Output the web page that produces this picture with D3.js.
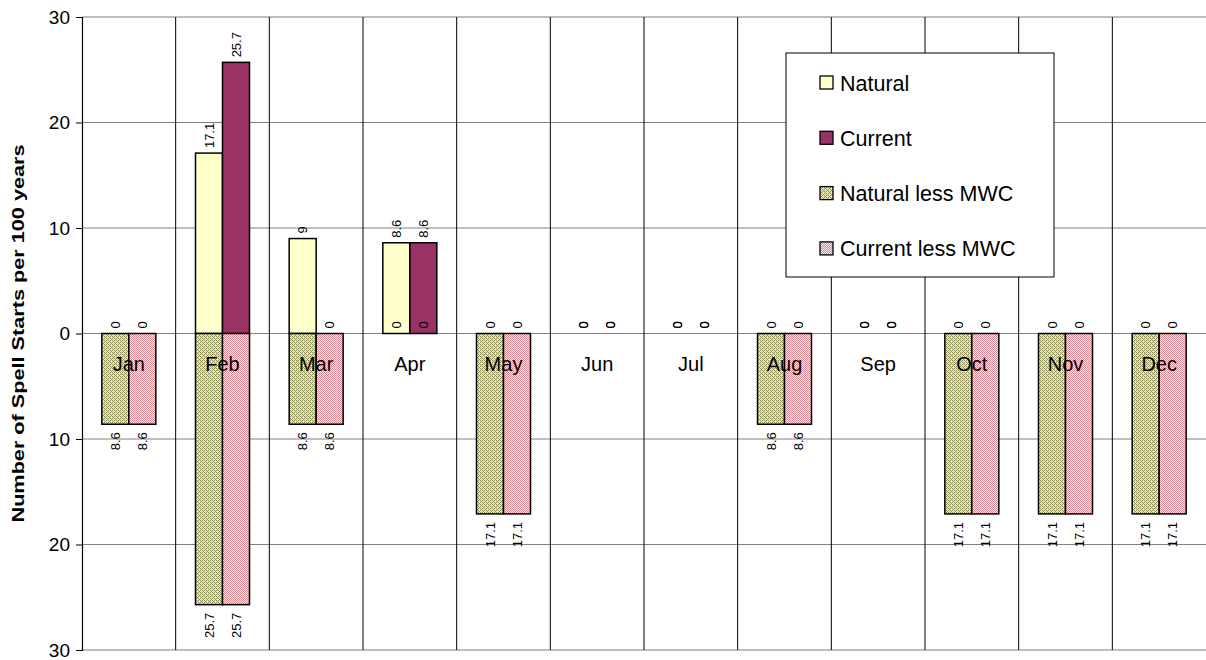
<!DOCTYPE html>
<html>
<head>
<meta charset="utf-8">
<script src="https://cdn.jsdelivr.net/npm/d3@7/dist/d3.min.js"></script>
<style>
  html, body { margin: 0; padding: 0; background: #fff; }
  svg { display: block; font-family: Arial, "Liberation Sans", sans-serif; }
</style>
</head>
<body>
<svg id="chart" width="1206" height="660"></svg>
<script>
// Monthly spell starts per 100 years
const months = ["Jan","Feb","Mar","Apr","May","Jun","Jul","Aug","Sep","Oct","Nov","Dec"];
const natural          = [0, 17.1, 9,   8.6, 0,    0, 0, 0,   0, 0,    0,    0];
const current          = [0, 25.7, 0,   8.6, 0,    0, 0, 0,   0, 0,    0,    0];
const naturalLessMWC   = [8.6, 25.7, 8.6, 0, 17.1, 0, 0, 8.6, 0, 17.1, 17.1, 17.1];
const currentLessMWC   = [8.6, 25.7, 8.6, 0, 17.1, 0, 0, 8.6, 0, 17.1, 17.1, 17.1];
const yTicks = [-30, -20, -10, 0, 10, 20, 30];
const legendLabels = ["Natural", "Current", "Natural less MWC", "Current less MWC"];

const svg = d3.select("#chart");
const m = { left: 82, right: 1206, top: 17, bottom: 650 };

// Patterned fills for the "less MWC" series
const defs = svg.append("defs");
function dither(id, bg, fg, dots) {
  const p = defs.append("pattern").attr("id", id)
    .attr("patternUnits", "userSpaceOnUse").attr("width", 4).attr("height", 4);
  p.append("rect").attr("width", 4).attr("height", 4).attr("fill", bg);
  dots.forEach(([x, y]) => p.append("rect").attr("x", x).attr("y", y)
    .attr("width", 1).attr("height", 1).attr("fill", fg));
}
dither("patOlive", "#e8e8b0", "#8f8f58", [[0,0],[2,0],[1,1],[0,2],[2,2],[3,3]]);
dither("patPink", "#fbe8ea", "#d98a94", [[0,0],[2,0],[1,1],[3,1],[0,2],[2,2],[1,3],[3,3]]);

const fills = ["#ffffcc", "#993366", "url(#patOlive)", "url(#patPink)"];

const x = d3.scaleBand().domain(months).range([m.left, m.right]).paddingInner(0).paddingOuter(0);
const sub = d3.scaleBand().domain([0, 1]).range([0, x.bandwidth()]).paddingInner(0).paddingOuter(0.735);
const y = d3.scaleLinear().domain([-30, 30]).range([m.bottom, m.top]);

// Horizontal gridlines
svg.append("g").selectAll("line").data(yTicks).join("line")
  .attr("x1", m.left).attr("x2", m.right)
  .attr("y1", d => y(d)).attr("y2", d => y(d))
  .attr("stroke", "#808080").attr("stroke-width", 1.2);

// Vertical gridlines at category boundaries
svg.append("g").selectAll("line").data(months.slice(1)).join("line")
  .attr("x1", d => x(d)).attr("x2", d => x(d))
  .attr("y1", m.top).attr("y2", m.bottom)
  .attr("stroke", "#000").attr("stroke-width", 1);

// Bars: upper series grow up from zero, lower series grow down
const series = [
  { vals: natural, dir: 1, slot: 0, fill: fills[0] },
  { vals: current, dir: 1, slot: 1, fill: fills[1] },
  { vals: naturalLessMWC, dir: -1, slot: 0, fill: fills[2] },
  { vals: currentLessMWC, dir: -1, slot: 1, fill: fills[3] }
];

const barG = svg.append("g");
series.forEach(s => {
  barG.selectAll(null).data(months.map((mo, i) => ({ mo, v: s.vals[i] })).filter(d => d.v > 0))
    .join("rect")
    .attr("x", d => x(d.mo) + sub(s.slot))
    .attr("width", sub.bandwidth())
    .attr("y", d => s.dir > 0 ? y(d.v) : y(0))
    .attr("height", d => Math.abs(y(d.v) - y(0)))
    .attr("fill", s.fill)
    .attr("stroke", "#000").attr("stroke-width", 1.5);
});

// Category labels, drawn over the bars
svg.append("g").selectAll("text").data(months).join("text")
  .attr("x", d => x(d) + x.bandwidth() / 2)
  .attr("y", y(0) + 30)
  .attr("dy", "0.35em")
  .attr("text-anchor", "middle")
  .attr("font-size", 20)
  .attr("fill", "#000")
  .text(d => d);

// Value labels, rotated
const fmt = v => String(v);
const labG = svg.append("g");
series.forEach(s => {
  months.forEach((mo, i) => {
    const v = s.vals[i];
    const cx = x(mo) + sub(s.slot) + sub.bandwidth() / 2;
    let ly, anchor;
    if (s.dir > 0 || v === 0) {
      ly = (s.dir > 0 ? y(v) : y(0)) - 5;
      anchor = "start";
    } else {
      ly = y(-v) + 8;
      anchor = "end";
    }
    labG.append("text")
      .attr("transform", `translate(${cx},${ly}) rotate(-90)`)
      .attr("dy", "0.35em")
      .attr("text-anchor", anchor)
      .attr("font-size", 13)
      .attr("fill", "#000")
      .text(fmt(v));
  });
});

// Y axis with absolute-valued tick labels
const yAxis = d3.axisLeft(y).tickValues(yTicks).tickFormat(d => Math.abs(d)).tickSize(6).tickPadding(6);
const ax = svg.append("g").attr("transform", `translate(${m.left},0)`).call(yAxis);
ax.select(".domain").attr("stroke", "#000").attr("stroke-width", 1.2);
ax.selectAll(".tick line").attr("stroke", "#000");
ax.selectAll(".tick text").attr("font-size", 19).attr("font-family", "Arial, 'Liberation Sans', sans-serif").attr("fill", "#000");

// Y axis title
svg.append("text")
  .attr("transform", `translate(18,${y(0)}) rotate(-90)`)
  .attr("dy", "0.35em")
  .attr("text-anchor", "middle")
  .attr("font-size", 17)
  .attr("font-weight", "bold")
  .attr("textLength", 378)
  .attr("lengthAdjust", "spacingAndGlyphs")
  .text("Number of Spell Starts per 100 years");

// Legend
const lg = svg.append("g").attr("transform", "translate(786,53)");
lg.append("rect").attr("width", 268).attr("height", 224)
  .attr("fill", "#fff").attr("stroke", "#000").attr("stroke-width", 1);
legendLabels.forEach((t, i) => {
  const cy = 29 + i * 55.3;
  lg.append("rect").attr("x", 34).attr("y", cy - 6).attr("width", 13).attr("height", 13)
    .attr("fill", fills[i]).attr("stroke", "#000").attr("stroke-width", 1.3);
  lg.append("text").attr("x", 54).attr("y", cy + 1).attr("dy", "0.35em")
    .attr("font-size", 21.5).attr("fill", "#000").text(t);
});
</script>
</body>
</html>
